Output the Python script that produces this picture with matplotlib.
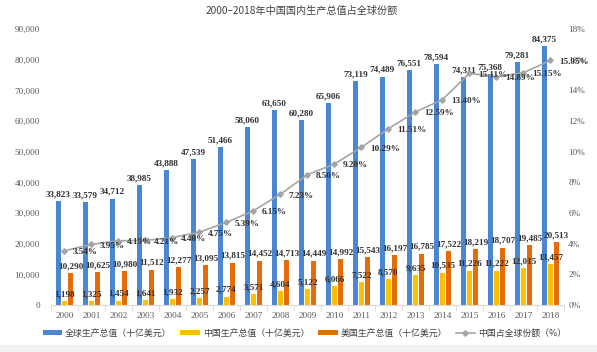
import numpy as np
import matplotlib.pyplot as plt
from matplotlib.patches import Rectangle

plt.rcParams['font.family'] = ['Noto Sans CJK SC', 'DejaVu Sans']

# data
years = [str(y) for y in range(2000, 2019)]
world = [33823, 33579, 34712, 38985, 43888, 47539, 51466, 58060, 63650, 60280,
         65906, 73119, 74489, 76551, 78594, 74311, 75368, 79281, 84375]
china = [1198, 1325, 1454, 1641, 1932, 2257, 2774, 3571, 4604, 5122,
         6066, 7522, 8570, 9635, 10535, 11226, 11222, 12015, 13457]
usa = [10290, 10625, 10980, 11512, 12277, 13095, 13815, 14452, 14713, 14449,
       14992, 15543, 16197, 16785, 17522, 18219, 18707, 19485, 20513]
share = [3.54, 3.95, 4.19, 4.21, 4.40, 4.75, 5.39, 6.15, 7.23, 8.50,
         9.20, 10.29, 11.51, 12.59, 13.40, 15.11, 14.89, 15.15, 15.95]

labels = ['全球生产总值（十亿美元）', '中国生产总值（十亿美元）',
          '美国生产总值（十亿美元）', '中国占全球份额（%）']
c_world, c_china, c_usa, c_share = '#4A86D4', '#FFC000', '#E46C0A', '#A5A5A5'

serif = 'Liberation Serif'
fs = 6.6
tick_col = '#595959'
txt_col = '#333333'

fig = plt.figure(figsize=(5.97, 3.52), dpi=100)
fig.patches.append(Rectangle((0, 0), 1, 0.02, transform=fig.transFigure,
                             color='#F2F2F2', zorder=0))
ax = fig.add_axes([0.0854, 0.1335, 0.8593, 0.7841])
x = np.arange(len(years))
w = 0.19
off = 0.225

b1 = ax.bar(x - off, world, w, color=c_world)
b2 = ax.bar(x, china, w, color=c_china)
b3 = ax.bar(x + off, usa, w, color=c_usa)

for bars, vals in [(b1, world), (b2, china), (b3, usa)]:
    for r, v in zip(bars, vals):
        ax.annotate(f'{v:,}', (r.get_x() + r.get_width() / 2, v),
                    xytext=(0, 2), textcoords='offset points', ha='center',
                    va='bottom', fontsize=fs, family=serif, weight='bold',
                    color=txt_col)

ax.set_xlim(-0.5, len(years) - 0.5)
ax.set_ylim(0, 90000)
ax.set_yticks(range(0, 90001, 10000))
ax.set_yticklabels([f'{v:,}' for v in range(0, 90001, 10000)],
                   family=serif, fontsize=fs, color=tick_col)
ax.set_xticks(x)
ax.set_xticklabels(years, family=serif, fontsize=fs, color=tick_col)
ax.set_xticks(np.arange(-0.5, len(years)), minor=True)
ax.tick_params(axis='x', which='major', length=0, pad=5)
ax.tick_params(axis='x', which='minor', length=4, color='#D9D9D9')
ax.tick_params(axis='y', length=0, pad=8)
for s in ['top', 'right', 'left']:
    ax.spines[s].set_visible(False)
ax.spines['bottom'].set_color('#D9D9D9')

ax2 = ax.twinx()
ax2.plot(x, share, color=c_share, lw=1.2, marker='D', ms=2.8)
for xi, v in zip(x, share):
    ax2.annotate(f'{v:.2f}%', (xi, v), xytext=(6, -1), textcoords='offset points',
                 ha='left', va='center', fontsize=fs, family=serif, weight='bold',
                 color=txt_col)
ax2.set_ylim(0, 18)
ax2.set_yticks(range(0, 19, 2))
ax2.set_yticklabels([f'{v}%' for v in range(0, 19, 2)],
                    family=serif, fontsize=fs, color=tick_col)
ax2.tick_params(axis='y', length=0, pad=3)
for s in ax2.spines.values():
    s.set_visible(False)

fig.text(0.505, 0.968, '2000–2018年中国国内生产总值占全球份额',
         ha='center', va='center', fontsize=7.3, color='#404040')

handles = [b1, b2, b3, ax2.lines[0]]
fig.legend(handles, labels, loc='center', bbox_to_anchor=(0.51, 0.054), ncol=4,
           frameon=False, fontsize=6.4, handlelength=2.2, handleheight=0.5,
           columnspacing=1.0, handletextpad=0.3, labelcolor='#404040')

fig.savefig('out.png', dpi=100)
